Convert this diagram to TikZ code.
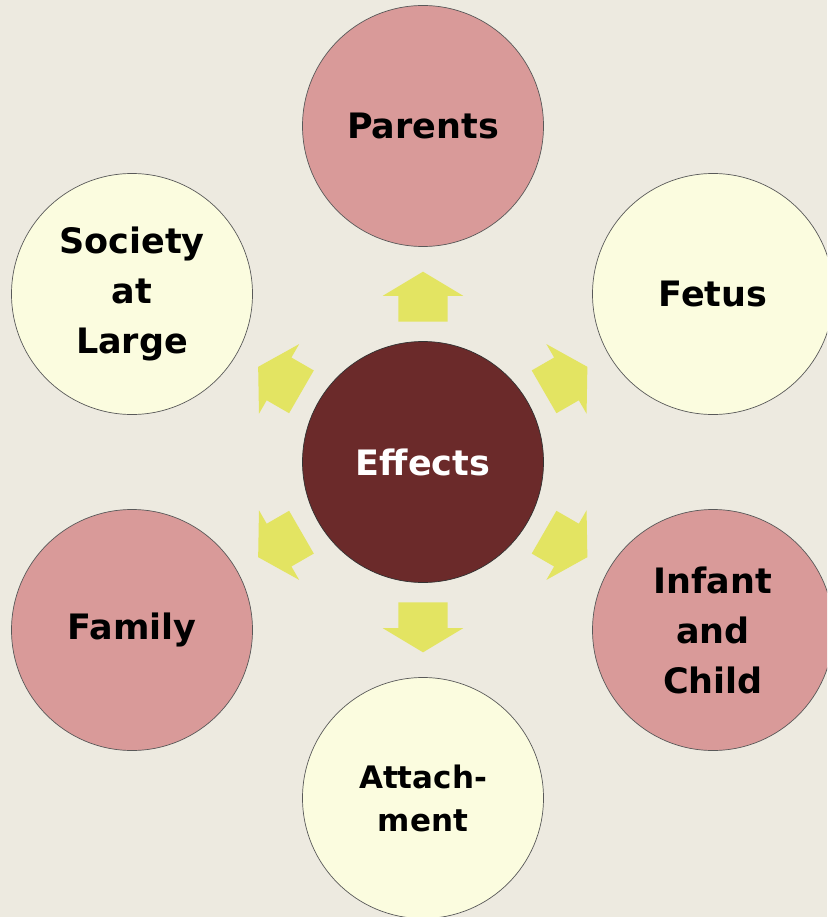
\documentclass[tikz,border=0pt]{standalone}
\usepackage{fontspec}
\setmainfont{DejaVu Sans}
\usepackage{xcolor}
\usetikzlibrary{shapes,arrows,calc}

\definecolor{bgbeige}{HTML}{EDEAE0}
\definecolor{arrowyellow}{HTML}{E3E462}
\definecolor{rosepink}{HTML}{D99A99}
\definecolor{paleyellow}{HTML}{FBFCDF}
\definecolor{darkbrown}{HTML}{6B2A2A}

\begin{document}
\begin{tikzpicture}[x=1pt,y=-1pt,
        bubble/.style={circle,draw=gray!70!black,line width=0.7pt,minimum size=241pt,
            inner sep=0pt,align=center,font=\fontsize{35}{50}\selectfont\bfseries},
        rosebubble/.style={bubble,fill=rosepink},
        palebubble/.style={bubble,fill=paleyellow},
        blockarrow/.style={single arrow,fill=arrowyellow,draw=none,minimum height=50pt,
            inner xsep=0pt,inner ysep=24.5pt,single arrow head extend=15.5pt,
            single arrow tip angle=118}]
                % Background
                \useasboundingbox (0,0) rectangle (827,917);
                \clip (0,0) rectangle (827,917);
                \fill[bgbeige] (0,0) rectangle (827,917);

                % Centre
                \node[bubble,fill=darkbrown,text=white,draw=black!80] (effects) at (423,462) {Effects};

                % Outer circles
                \node[rosebubble] (parents) at (423,126) {Parents};
                \node[palebubble] (fetus) at (713,294) {Fetus};
                \node[rosebubble] (infant) at (713,630) {Infant\\and\\Child};
                \node[palebubble,font=\fontsize{31}{43}\selectfont\bfseries] (attach) at (423,798) {Attach-\\ment};
                \node[rosebubble] (family) at (132,630) {Family};
                \node[palebubble] (society) at (132,294) {Society\\at\\Large};

                % Block arrows
                \node[blockarrow,rotate=90] (toParents) at ($(effects)!0.47!(parents)$) {};
                \node[blockarrow,rotate=30] (toFetus) at ($(effects)!0.47!(fetus)$) {};
                \node[blockarrow,rotate=-30] (toInfant) at ($(effects)!0.47!(infant)$) {};
                \node[blockarrow,rotate=-90] (toAttach) at ($(effects)!0.47!(attach)$) {};
                \node[blockarrow,rotate=-150] (toFamily) at ($(effects)!0.47!(family)$) {};
                \node[blockarrow,rotate=150] (toSociety) at ($(effects)!0.47!(society)$) {};
\end{tikzpicture}
\end{document}
